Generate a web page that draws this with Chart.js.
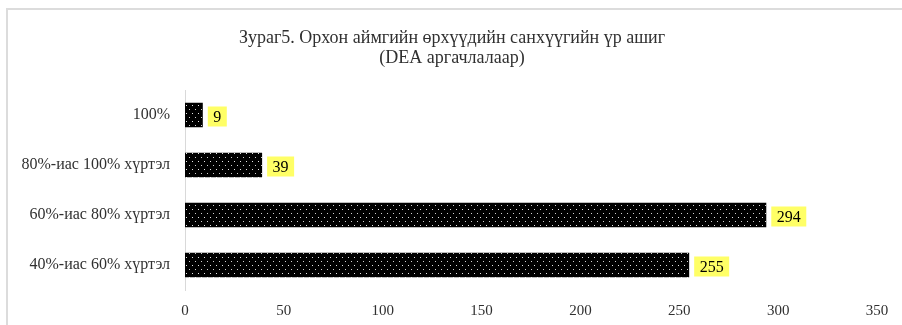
<!DOCTYPE html>
<html>
<head>
<meta charset="utf-8">
<script src="https://cdn.jsdelivr.net/npm/chart.js@4"></script>
<style>
  html, body { margin: 0; padding: 0; background: #fff; }
  #wrap { position: relative; width: 902px; height: 325px; }
</style>
</head>
<body>
<div id="wrap"><canvas id="c" width="902" height="325"></canvas></div>
<script>
// Efficiency bands of Orkhon aimag households (DEA method)
const categories = ['100%', '80%-иас 100% хүртэл', '60%-иас 80% хүртэл', '40%-иас 60% хүртэл'];
const householdCounts = [9, 39, 294, 255];
const xTicks = [0, 50, 100, 150, 200, 250, 300, 350];
const titleLines = ['Зураг5. Орхон аймгийн өрхүүдийн санхүүгийн үр ашиг', '(DEA аргачлалаар)'];

const SERIF = '"Liberation Serif", "DejaVu Serif", serif';
const TEXT = '#303030';

// Black fill with a staggered white dot grid
function dottedPattern() {
  const tile = document.createElement('canvas');
  tile.width = 6; tile.height = 8;
  const t = tile.getContext('2d');
  t.fillStyle = '#000';
  t.fillRect(0, 0, 6, 8);
  t.fillStyle = '#e8e8e8';
  t.fillRect(0, 1, 1, 1);
  t.fillStyle = '#d0d0d0';
  t.fillRect(3, 5, 1, 1);
  return document.getElementById('c').getContext('2d').createPattern(tile, 'repeat');
}

// Light grey frame around the chart object
const framePlugin = {
  id: 'frame',
  beforeDraw(chart) {
    const ctx = chart.ctx;
    ctx.save();
    ctx.fillStyle = '#fff';
    ctx.fillRect(0, 0, chart.width, chart.height);
    ctx.strokeStyle = '#dcdcdc';
    ctx.lineWidth = 2;
    ctx.strokeRect(7, 9, chart.width + 10, chart.height + 10);
    ctx.restore();
  }
};

// Two-line caption centred over the frame
const captionPlugin = {
  id: 'caption',
  afterDraw(chart) {
    const ctx = chart.ctx;
    ctx.save();
    ctx.font = '18px ' + SERIF;
    ctx.fillStyle = TEXT;
    ctx.textAlign = 'center';
    ctx.textBaseline = 'middle';
    const cx = 452;
    titleLines.forEach((line, i) => ctx.fillText(line, cx, 38 + i * 20));
    ctx.restore();
  }
};

// Value labels in yellow boxes to the right of each bar
const valueBoxPlugin = {
  id: 'valueBoxes',
  afterDatasetsDraw(chart) {
    const ctx = chart.ctx;
    const meta = chart.getDatasetMeta(0);
    ctx.save();
    ctx.font = '16px ' + SERIF;
    ctx.textAlign = 'center';
    ctx.textBaseline = 'middle';
    meta.data.forEach((bar, i) => {
      const text = String(chart.data.datasets[0].data[i]);
      const w = ctx.measureText(text).width + 11;
      const h = 20;
      const x0 = bar.x + 5;
      const cy = bar.y + 1.5;
      ctx.fillStyle = '#ffff66';
      ctx.fillRect(x0, cy - h / 2, w, h);
      ctx.fillStyle = '#000';
      ctx.fillText(text, x0 + w / 2, cy + 1);
    });
    ctx.restore();
  }
};

new Chart(document.getElementById('c'), {
  type: 'bar',
  data: {
    labels: categories,
    datasets: [{
      data: householdCounts,
      backgroundColor: dottedPattern(),
      borderWidth: 0,
      categoryPercentage: 1,
      barPercentage: 0.49
    }]
  },
  options: {
    indexAxis: 'y',
    responsive: false,
    animation: false,
    layout: { padding: { left: 0, right: 25, top: 90, bottom: 0 } },
    plugins: {
      legend: { display: false },
      tooltip: { enabled: false },
      title: { display: false }
    },
    scales: {
      x: {
        min: 0,
        max: 350,
        afterBuildTicks(scale) { scale.ticks = xTicks.map(v => ({ value: v })); },
        afterFit(scale) { scale.height = 35; },
        grid: { display: false, drawTicks: false },
        border: { display: false },
        ticks: {
          color: TEXT,
          font: { family: SERIF, size: 15 },
          padding: 12,
          maxRotation: 0
        }
      },
      y: {
        afterFit(scale) { scale.width = 185; },
        grid: { display: false, drawTicks: false },
        border: { display: true, color: '#d9d9d9', width: 1 },
        ticks: {
          color: TEXT,
          font: { family: SERIF, size: 16 },
          padding: 15
        }
      }
    }
  },
  plugins: [framePlugin, captionPlugin, valueBoxPlugin]
});
</script>
</body>
</html>
